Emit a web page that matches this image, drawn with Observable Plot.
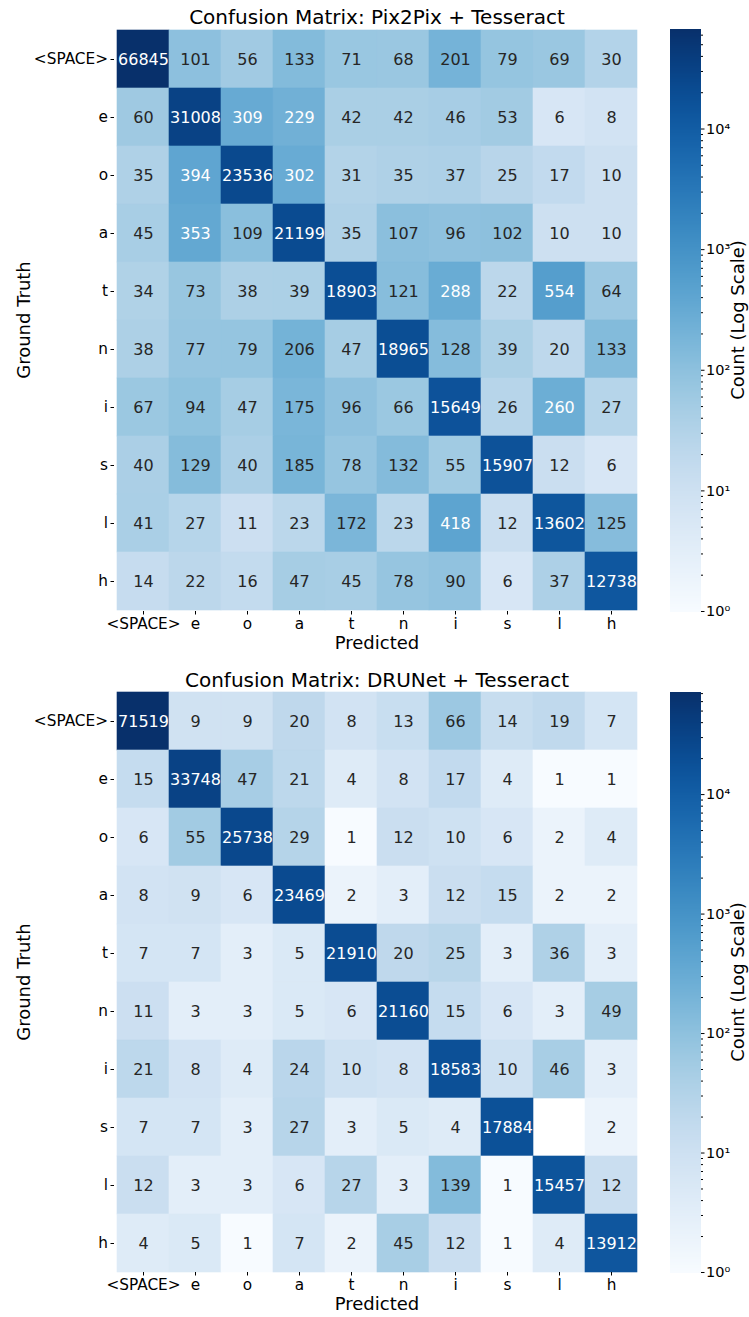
<!DOCTYPE html>
<html><head><meta charset="utf-8">
<script src="https://cdn.jsdelivr.net/npm/d3@7"></script>
<script src="https://cdn.jsdelivr.net/npm/@observablehq/plot@0.6"></script>
<style>
body{margin:0;background:#fff;font-family:"DejaVu Sans",sans-serif;}
#root{position:relative;width:749px;height:1317px;overflow:hidden;background:#fff;}
.abs{position:absolute;white-space:nowrap;line-height:1;color:#000;font-family:"DejaVu Sans",sans-serif;}
svg{position:absolute;overflow:visible;}
</style></head><body><div id="root"></div>
<script>
const labels = ["<SPACE>","e","o","a","t","n","i","s","l","h"];

const pix2pix = [
  [66845,101,56,133,71,68,201,79,69,30],
  [60,31008,309,229,42,42,46,53,6,8],
  [35,394,23536,302,31,35,37,25,17,10],
  [45,353,109,21199,35,107,96,102,10,10],
  [34,73,38,39,18903,121,288,22,554,64],
  [38,77,79,206,47,18965,128,39,20,133],
  [67,94,47,175,96,66,15649,26,260,27],
  [40,129,40,185,78,132,55,15907,12,6],
  [41,27,11,23,172,23,418,12,13602,125],
  [14,22,16,47,45,78,90,6,37,12738]
];

const drunet = [
  [71519,9,9,20,8,13,66,14,19,7],
  [15,33748,47,21,4,8,17,4,1,1],
  [6,55,25738,29,1,12,10,6,2,4],
  [8,9,6,23469,2,3,12,15,2,2],
  [7,7,3,5,21910,20,25,3,36,3],
  [11,3,3,5,6,21160,15,6,3,49],
  [21,8,4,24,10,8,18583,10,46,3],
  [7,7,3,27,3,5,4,17884,0,2],
  [12,3,3,6,27,3,139,1,15457,12],
  [4,5,1,7,2,45,12,1,4,13912]
];

const titles = ["Confusion Matrix: Pix2Pix + Tesseract", "Confusion Matrix: DRUNet + Tesseract"];
const xLabel = "Predicted";
const yLabel = "Ground Truth";
const cbarLabel = "Count (Log Scale)";
const majorTicks = [1, 10, 100, 1000, 10000];
const majorTickLabels = ["10\u2070", "10\u00B9", "10\u00B2", "10\u00B3", "10\u2074"];

const root = document.getElementById("root");
const FONT = "DejaVu Sans";

function addText(txt, x, y, size, rotate) {
  const d = document.createElement("div");
  d.className = "abs";
  d.textContent = txt;
  d.style.left = x + "px";
  d.style.top = y + "px";
  d.style.fontSize = size + "px";
  d.style.transform = "translate(-50%,-50%)" + (rotate ? " rotate(-90deg)" : "");
  root.appendChild(d);
}

function lum(c) {
  const r = d3.rgb(c);
  const f = x => { x /= 255; return x <= 0.03928 ? x / 12.92 : Math.pow((x + 0.055) / 1.055, 2.4); };
  return 0.2126 * f(r.r) + 0.7152 * f(r.g) + 0.0722 * f(r.b);
}

function panel(matrix, title, top, height, mTop, mBottom) {
  const data = [];
  matrix.forEach((row, i) => row.forEach((v, j) => data.push({truth: labels[i], pred: labels[j], value: v})));
  const vmax = d3.max(data, d => d.value);
  const colorOpts = {type: "log", scheme: "blues", domain: [1, vmax]};
  const cs = Plot.scale({color: colorOpts});
  const shown = data.filter(d => d.value > 0);
  const isDark = d => lum(cs.apply(d.value)) < 0.408;

  const heat = Plot.plot({
    width: 660, height,
    marginTop: mTop, marginBottom: mBottom, marginLeft: 114, marginRight: 20,
    x: {type: "band", domain: labels, padding: 0, label: null},
    y: {type: "band", domain: labels, padding: 0, label: null},
    color: colorOpts,
    style: {fontFamily: FONT, color: "#000", background: "transparent"},
    marks: [
      Plot.cell(shown, {x: "pred", y: "truth", fill: "value", stroke: "value", strokeWidth: 0.6, inset: 0}),
      Plot.text(shown.filter(isDark), {x: "pred", y: "truth", text: d => String(d.value), fill: "white", fontSize: 16}),
      Plot.text(shown.filter(d => !isDark(d)), {x: "pred", y: "truth", text: d => String(d.value), fill: "#262626", fontSize: 16}),
      Plot.axisX({anchor: "bottom", tickSize: 3.5, tickPadding: 3, fontSize: 15.3, label: null}),
      Plot.axisY({anchor: "left", tickSize: 3.5, tickPadding: 3, fontSize: 15.3, label: null})
    ]
  });
  heat.style.left = "0px";
  heat.style.top = top + "px";
  root.appendChild(heat);

  const nb = 480;
  const bands = d3.range(nb).map(k => {
    const a = Math.pow(vmax, k / nb), b = Math.pow(vmax, (k + 1) / nb);
    return {y1: a, y2: b, v: Math.sqrt(a * b)};
  });
  const minorTicks = [];
  for (const p of [1, 10, 100, 1000, 10000]) for (let m = 2; m <= 9; m++) if (m * p <= vmax) minorTicks.push(m * p);

  const cbar = Plot.plot({
    width: 109, height,
    marginTop: mTop, marginBottom: mBottom, marginLeft: 30, marginRight: 49,
    x: {domain: [0, 1], axis: null},
    y: {type: "log", domain: [1, vmax], axis: null},
    color: colorOpts,
    style: {fontFamily: FONT, color: "#000", background: "transparent"},
    marks: [
      Plot.rect(bands, {x1: 0, x2: 1, y1: "y1", y2: "y2", fill: "v", stroke: "v", strokeWidth: 1, shapeRendering: "crispEdges"}),
      Plot.axisY({anchor: "right", ticks: majorTicks, tickFormat: d => majorTickLabels[majorTicks.indexOf(d)], tickSize: 3.5, tickPadding: 2, fontSize: 14.5}),
      Plot.axisY({anchor: "right", ticks: minorTicks, tickFormat: () => "", tickSize: 2})
    ]
  });
  cbar.style.left = "640px";
  cbar.style.top = top + "px";
  root.appendChild(cbar);

  const plotTop = top + mTop, plotBottom = top + height - mBottom;
  const cy = (plotTop + plotBottom) / 2;
  addText(title, 377, plotTop - 12, 20);
  addText(xLabel, 377, plotBottom + 32, 18);
  addText(yLabel, 24, cy, 18, true);
  addText(cbarLabel, 738, cy, 18, true);
}

panel(pix2pix, titles[0], 0, 660, 29, 49);
panel(drunet, titles[1], 660, 657, 32, 45);
</script>
</body></html>
